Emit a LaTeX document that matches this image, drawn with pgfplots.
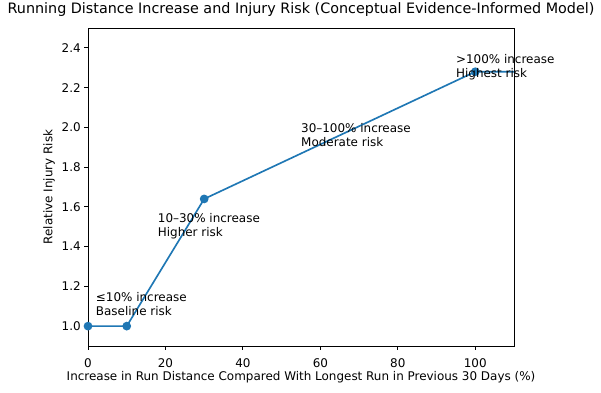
\documentclass[border=0pt]{standalone}
\usepackage{fontspec}
\setmainfont{DejaVu Sans}
\usepackage{pgfplots}
\pgfplotsset{compat=1.18}
\definecolor{mplblue}{HTML}{1F77B4}
\begin{document}
\begin{tikzpicture}[x=1bp,y=1bp]
\path[use as bounding box] (-88,-46) rectangle (513,346);
\begin{axis}[
  at={(0,0)}, anchor=south west,
  scale only axis, width=426bp, height=318bp,
  xmin=0, xmax=110, ymin=0.9, ymax=2.5,
  xtick={0,20,40,60,80,100},
  ytick={1.0,1.2,1.4,1.6,1.8,2.0,2.2,2.4},
  yticklabel style={/pgf/number format/.cd,fixed,fixed zerofill,precision=1},
  /pgf/number format/assume math mode=true,
  tick align=outside, tick pos=left,
  major tick length=3.8bp,
  every tick/.style={black, line width=0.9bp},
  axis line style={line width=0.9bp},
  ticklabel style={font=\fontsize{12}{14}\selectfont},
  xticklabel style={anchor=base, yshift=-17.5bp},
  label style={font=\fontsize{12}{14}\selectfont},
  xlabel style={at={(0.5,0)}, anchor=base, yshift=-34bp},
  title style={font=\fontsize{14.4}{17}\selectfont, at={(0.5,1)}, anchor=base, yshift=8.5bp},
  title={Running Distance Increase and Injury Risk (Conceptual Evidence-Informed Model)},
  xlabel={Increase in Run Distance Compared With Longest Run in Previous 30 Days (\%)},
  ylabel={Relative Injury Risk},
  clip mode=individual,
]
\addplot[mplblue, line width=1.65bp, mark=*, mark size=3.5bp, mark options={fill=mplblue, draw=mplblue}]
  coordinates {(0,1.0) (10,1.0) (30,1.64) (100,2.28) (130,2.28)};
\begin{scope}[every node/.style={anchor=south west, inner sep=0pt, align=left, font=\fontsize{12}{14.4}\selectfont}]
\node at (axis cs:2,1.05) {≤10\% increase\\Baseline risk};
\node at (axis cs:18,1.436) {10–30\% increase\\Higher risk};
\node at (axis cs:55,1.9) {30–100\% increase\\Moderate risk};
\node at (axis cs:95,2.236) {>100\% increase\\Highest risk};
\end{scope}
\end{axis}
\end{tikzpicture}
\end{document}
